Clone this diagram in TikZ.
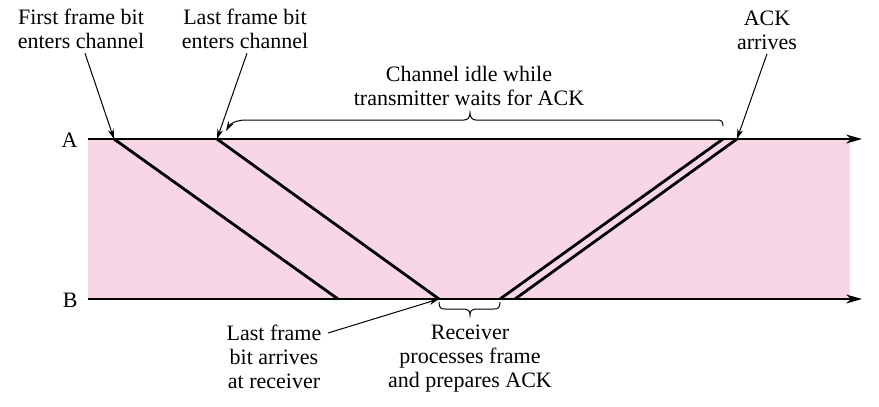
\documentclass[tikz,border=0pt]{standalone}
\usepackage{fontspec}
\setmainfont{Liberation Serif}
\usetikzlibrary{arrows.meta}
\definecolor{chanpink}{RGB}{249,214,230}

\begin{document}
\begin{tikzpicture}[x=0.5pt,y=-0.5pt,font=\rmfamily\fontsize{11}{12}\selectfont,
	lbl/.style={align=center,inner sep=0pt},
	axis/.style={line width=0.65pt,-{Stealth[length=8pt,width=4.5pt]}},
	sig/.style={line width=1.4pt},
	annot/.style={line width=0.5pt,-{Stealth[length=5pt,width=3pt]}}]

\useasboundingbox (0,0) rectangle (879,407);
\fill[chanpink] (88,139) rectangle (850,299);

% time axes
\coordinate(A0) at (88,139);
\coordinate(A1) at (862,139);
\coordinate(B0) at (88,299);
\coordinate(B1) at (862,299);
\node(A)[anchor=east,inner sep=0pt] at (78,140){A};
\node(B)[anchor=east,inner sep=0pt] at (78,300){B};
\draw[axis](A0)--(A1);
\draw[axis](B0)--(B1);

% frame and ACK
\coordinate(fa) at (114,139);
\coordinate(fb) at (338,299);
\coordinate(la) at (217,139);
\coordinate(lb) at (439,299);
\coordinate(kb1) at (500,299);
\coordinate(ka1) at (723,139);
\coordinate(kb2) at (515,299);
\coordinate(ka2) at (737,139);
\path[sig](fa)edge(fb)
	(la)edge(lb)
	(kb1)edge(ka1)
	(kb2)edge(ka2);

% labels
\node[lbl](first) at (81,29){First frame bit\\enters channel};
\node[lbl](last) at (245,29){Last frame bit\\enters channel};
\node[lbl](ack) at (767,30){ACK\\arrives};
\node[lbl](idle) at (469,86){Channel idle while\\transmitter waits for ACK};
\node[lbl](arr) at (274,357){Last frame\\bit arrives\\at receiver};
\node[lbl](proc) at (470,359){Receiver\\processes frame\\and prepares ACK};
\coordinate(arrtail) at (328,333);

\path[annot]([xshift=2pt,yshift=-2pt]first.south)edge(fa)
	([xshift=1pt,yshift=-2pt]last.south)edge(la)
	([yshift=-2pt]ack.south)edge(ka2)
	(arrtail)edge(lb);

% braces
\draw[annot](723,126) .. controls (723,121) and (721,120) .. (717,120) -- (476,120)
	.. controls (472,120) and (470,117) .. (470,113)
	.. controls (470,117) and (468,120) .. (464,120) -- (246,120)
	.. controls (236,120) and (230,124) .. (226,131);
\draw[line width=0.5pt](lb) ++(0,3) .. controls (439,308) and (441,309) .. (445,309) -- (465,309)
	.. controls (468,309) and (470,311) .. (470,315)
	.. controls (470,311) and (472,309) .. (475,309) -- (494,309)
	.. controls (498,309) and (500,308) .. (500,302);

\end{tikzpicture}
\end{document}
